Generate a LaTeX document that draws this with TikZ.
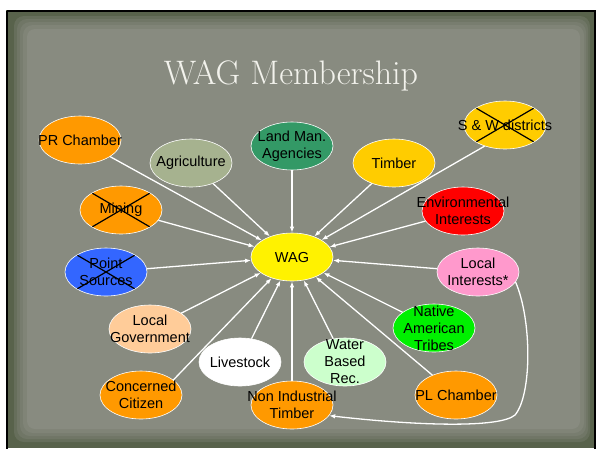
\documentclass[tikz,border=0pt]{standalone}
\usepackage{fontspec}
\newfontfamily\nodefont{Liberation Sans}
\usetikzlibrary{shapes.geometric, arrows.meta}

\definecolor{frameolive}{HTML}{58624B}
\definecolor{slategray}{HTML}{888B80}
\definecolor{titlewhite}{HTML}{F2F2EC}
\definecolor{chamberorange}{HTML}{FF9900}
\definecolor{sagegreen}{HTML}{A6B28F}
\definecolor{agencygreen}{HTML}{339966}
\definecolor{timbergold}{HTML}{FFCC00}
\definecolor{pointblue}{HTML}{3366FF}
\definecolor{envred}{HTML}{FF0000}
\definecolor{localpink}{HTML}{FF99CC}
\definecolor{tribegreen}{HTML}{00F000}
\definecolor{waterpale}{HTML}{CCFFCC}
\definecolor{govpeach}{HTML}{FFCC99}

\tikzset{
  member/.style={ellipse, draw=white, line width=0.6pt, minimum width=82pt,
    minimum height=48pt, inner sep=0pt},
  lbl/.style={align=center, inner sep=0pt, text=black,
    font=\nodefont\fontsize{14.5}{17}\selectfont},
  crossed/.style={path picture={
    \draw[black, line width=1.2pt]
      (path picture bounding box.north west) -- (path picture bounding box.south east)
      (path picture bounding box.south west) -- (path picture bounding box.north east);}},
  link/.style={draw=white, line width=1.3pt, -{Latex[length=6pt,width=4.5pt]}}
}

\begin{document}
\begin{tikzpicture}[x=1pt, y=-1pt]
\useasboundingbox (0,0) rectangle (596,448);
\fill[white] (0,0) rectangle (596,448);
% slide background
\fill[frameolive] (6,10) rectangle (596,448);
\fill[slategray, opacity=0.3, rounded corners=10pt] (14,16) rectangle (590,442);
\fill[slategray, opacity=0.3, rounded corners=10pt] (17,19) rectangle (588,439);
\fill[slategray, opacity=0.35, rounded corners=10pt] (20,22) rectangle (586,436);
\fill[slategray, opacity=0.5, rounded corners=10pt] (23,25) rectangle (584,433);
\fill[slategray, rounded corners=8pt] (27,29) rectangle (580,429);
\draw[black, line width=2pt] (7,11) -- (595,11) -- (595,449);
\draw[black, line width=2pt] (7,11) -- (7,449);

\node[font=\fontsize{34}{40}\selectfont, text=titlewhite, anchor=base] (title) at (291,84) {WAG Membership};

% members
\node[member, fill=chamberorange, label={[lbl]center:PR Chamber}] (prc) at (80,140) {};
\node[member, fill=sagegreen, label={[lbl]center:Agriculture}] (agr) at (191,163) {};
\node[member, fill=agencygreen, label={[lbl]center:{Land Man.\\Agencies}}] (lma) at (292,146) {};
\node[member, fill=timbergold, label={[lbl]center:Timber}] (tim) at (394,163) {};
\node[member, fill=timbergold, crossed, label={[lbl]center:S \& W districts}] (sw) at (505,125) {};
\node[member, fill=chamberorange, crossed, label={[lbl]center:Mining}] (min) at (121,210) {};
\node[member, fill=envred, label={[lbl]center:{Environmental\\Interests}}] (env) at (463,211) {};
\node[member, fill=pointblue, crossed, label={[lbl]center:{Point\\Sources}}] (pts) at (106,272) {};
\node[member, fill=yellow, label={[lbl]center:WAG}] (wag) at (292,257) {};
\node[member, fill=localpink, label={[lbl]center:{Local\\Interests*}}] (loi) at (478,272) {};
\node[member, fill=govpeach, label={[lbl]center:{Local\\Government}}] (lgv) at (150,329) {};
\node[member, fill=tribegreen, label={[lbl]center:{Native\\American\\Tribes}}] (nat) at (434,328) {};
\node[member, fill=white, label={[lbl]center:Livestock}] (liv) at (240,362) {};
\node[member, fill=waterpale, label={[lbl]center:{Water\\Based\\Rec.}}] (wbr) at (345,362) {};
\node[member, fill=chamberorange, label={[lbl]center:{Concerned\\Citizen}}] (ccz) at (141,395) {};
\node[member, fill=chamberorange, label={[lbl]center:{Non Industrial\\Timber}}] (nit) at (292,405) {};
\node[member, fill=chamberorange, label={[lbl]center:PL Chamber}] (plc) at (456,395) {};

% arrows into WAG
\draw[link] (prc) -- (wag);
\draw[link] (agr) -- (wag);
\draw[link] (lma) -- (wag);
\draw[link] (tim) -- (wag);
\draw[link] (sw.-134) -- (wag);
\draw[link] (min) -- (wag);
\draw[link] (env) -- (wag);
\draw[link] (pts) -- (wag);
\draw[link] (loi) -- (wag);
\draw[link] (lgv) -- (wag);
\draw[link] (nat) -- (wag);
\draw[link] (liv) -- (wag);
\draw[link] (wbr) -- (wag);
\draw[link] (ccz.25) -- (wag);
\draw[link] (nit) -- (wag);
\draw[link] (plc) -- (wag);
\draw[link] (loi.-15) .. controls (532,320) and (532,395) .. (515,415)
  .. controls (500,428) and (420,426) .. (nit.-16);
\end{tikzpicture}
\end{document}
